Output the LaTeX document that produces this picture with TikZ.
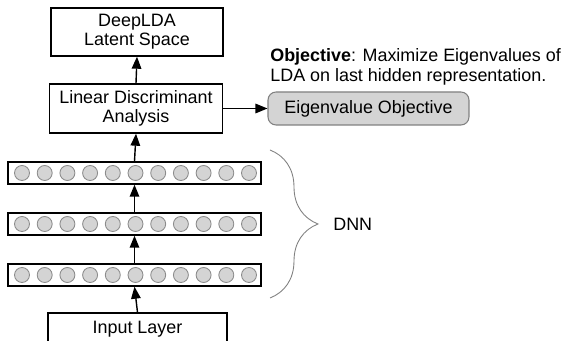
\documentclass[tikz,border=0pt]{standalone}
\usepackage{fontspec}
\setmainfont{Liberation Sans}
\usepackage{tikz}
\usetikzlibrary{arrows.meta,decorations.pathreplacing}

\tikzset{
  box/.style={draw, line width=0.8pt, align=center, inner sep=0pt},
  layer/.style={draw, line width=0.8pt, minimum width=5.06cm, minimum height=0.44cm, inner sep=0pt},
  neuron/.style={circle, draw=black!45, fill=black!17, minimum size=0.3cm, inner sep=0pt, line width=0.5pt},
  arr/.style={-{Triangle[length=2.4mm,width=1.9mm]}, line width=0.8pt}
}

\begin{document}
\begin{tikzpicture}[x=0.02cm, y=0.02cm, font=\fontsize{10.2}{10.6}\selectfont]
\useasboundingbox (0,0) rectangle (562,341);

\node[box, minimum width=3.44cm, minimum height=0.96cm] (latent) at (137,309) {DeepLDA\\Latent Space};
\node[box, minimum width=3.46cm, minimum height=0.98cm] (lda) at (136,232.5) {Linear Discriminant\\Analysis};

\node[layer] (l3) at (134.5,168) {};
\node[layer] (l2) at (134.5,117) {};
\node[layer] (l1) at (134.5,66) {};

\foreach \i in {0,...,10}{
  \node[neuron] (a\i) at (22+\i*22.7,168) {};
  \node[neuron] (b\i) at (22+\i*22.7,117) {};
  \node[neuron] (c\i) at (22+\i*22.7,66) {};
}

\node[box, minimum width=3.58cm, minimum height=0.64cm] (input) at (137.5,12) {Input Layer};

\node[draw=black!50, fill=black!17, rounded corners=1.6mm, line width=0.6pt,
      minimum width=4.02cm, minimum height=0.66cm, inner sep=0pt] (eigen) at (368.5,232.5) {Eigenvalue Objective};

\node[anchor=west, align=left, inner sep=0pt, font=\fontsize{10.2}{11.4}\selectfont] (obj) at (270,274)
  {\textbf{Objective}: Maximize Eigenvalues of\\LDA on last hidden representation.};

\draw[arr] (input.north) -- (l1.south);
\draw[arr] (l1.north) -- (l2.south);
\draw[arr] (l2.north) -- (l3.south);
\draw[arr] (l3.north) -- (lda.south);
\draw[arr] (lda.north) -- (latent.south);
\draw[arr] (lda.east) -- (eigen.west);

\coordinate (btop) at (270,191);
\coordinate (bbot) at (270,43);
\draw[black!50, line width=0.5pt, decorate, decoration={brace, amplitude=0.96cm}] (btop) -- (bbot);
\node[anchor=west, inner sep=0pt] (dnn) at (333,117) {DNN};

\end{tikzpicture}
\end{document}
